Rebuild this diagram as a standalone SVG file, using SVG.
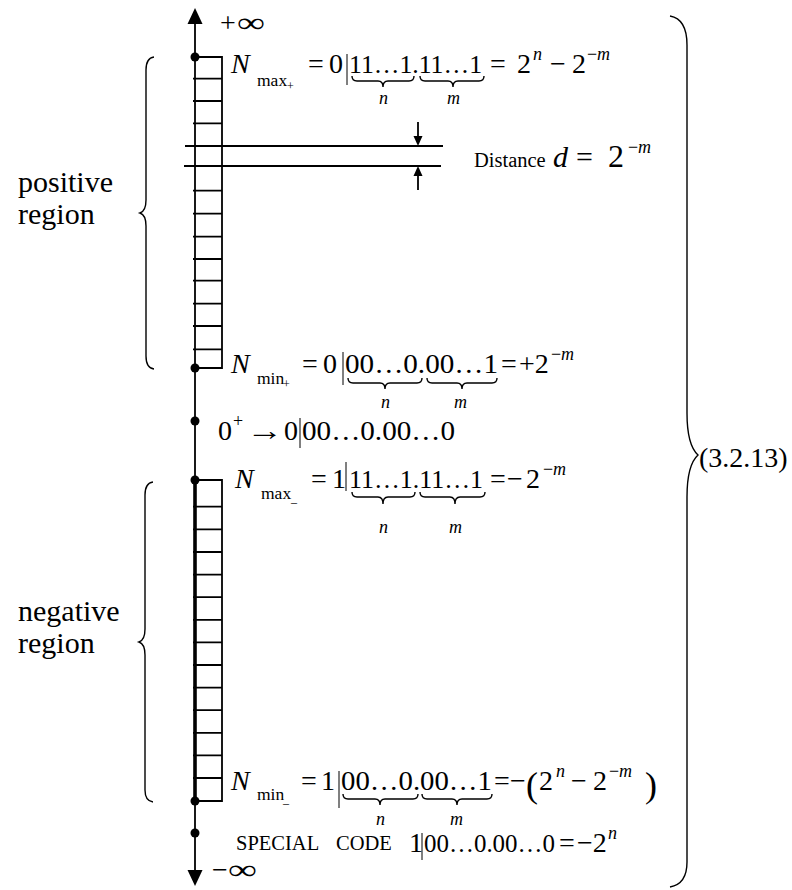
<svg xmlns="http://www.w3.org/2000/svg" width="792" height="890" viewBox="0 0 792 890" font-family="'Liberation Serif', 'DejaVu Serif', serif">
<style>
text{fill:#000}
.m{font-size:28px}
.g{font-size:25.5px}
.i{font-style:italic}
.sub{font-size:17.5px}
.ss{font-size:12px}
.sup{font-size:18px}
.lbl{font-size:18px;font-style:italic}
.big{font-size:28px}
.sm{font-size:20.5px}
.rg{font-size:30px}
.ln{stroke:#000;stroke-width:1.8;fill:none}
.br{stroke:#000;stroke-width:1.4;fill:none}
.bar{stroke:#000;stroke-width:1;fill:none}
.dot{fill:#000}
</style>
<g id="axis">
<line class="ln" x1="195" y1="18" x2="195" y2="876" stroke-width="2.4"/>
<line x1="195" y1="480" x2="195" y2="802" stroke="#000" stroke-width="3.6"/>
<polygon points="195,8 187.5,24 202.5,24" fill="#000"/>
<polygon points="195,886 187.5,870 202.5,870" fill="#000"/>
<text class="m" x="220" y="32">+</text>
<text class="m" x="237" y="32" textLength="28" lengthAdjust="spacingAndGlyphs">∞</text>
<text class="m" x="212" y="879">−</text>
<text class="m" x="228" y="879" textLength="29" lengthAdjust="spacingAndGlyphs">∞</text>
</g>
<g id="positive-ladder">
<path class="ln" d="M195,57 H222 V368 H195"/>
<path class="ln" d="M193,78.7 H222 M193,101 H222 M193,123.3 H222 M193,190.7 H222 M193,213.7 H222 M193,236.7 H222 M193,259 H222 M193,280.7 H222 M193,303.7 H222 M193,326 H222 M193,349.3 H222"/>
</g>
<g id="distance">
<line class="ln" x1="185" y1="146" x2="443" y2="146"/>
<line class="ln" x1="184" y1="166" x2="441" y2="166"/>
<line class="ln" x1="418" y1="122" x2="418" y2="138"/>
<polygon points="418,146 413.5,136 422.5,136" fill="#000"/>
<line class="ln" x1="418" y1="190" x2="418" y2="174"/>
<polygon points="418,166 413.5,176 422.5,176" fill="#000"/>
<text class="sm" x="474" y="167">Distance</text>
<text class="i" x="553" y="167" font-size="30">d</text>
<text x="576" y="167" font-size="30">=</text>
<text x="608" y="167" font-size="32">2</text>
<text class="sup" x="628" y="153">−</text>
<text class="sup i" x="638" y="153">m</text>
</g>
<g id="negative-ladder">
<path class="ln" d="M195,480 H222 V801 H195"/>
<path class="ln" d="M193,506.7 H222 M193,529.3 H222 M193,552 H222 M193,574.6 H222 M193,597.2 H222 M193,619.8 H222 M193,642.4 H222 M193,665 H222 M193,687.6 H222 M193,710.2 H222 M193,732.8 H222 M193,755.4 H222 M193,778 H222"/>
</g>
<g id="dots">
<circle class="dot" cx="195" cy="57" r="4.5"/>
<circle class="dot" cx="195" cy="368" r="4.5"/>
<circle class="dot" cx="195" cy="421" r="4.5"/>
<circle class="dot" cx="195" cy="480" r="4.5"/>
<circle class="dot" cx="195" cy="801" r="4.5"/>
<circle class="dot" cx="195" cy="833" r="4.5"/>
</g>
<g id="positive-brace">
<path class="br" d="M154,57 Q146,58 146,70 L146,200 Q146,211 140,213 Q146,215 146,226 L146,356 Q146,368 154,369"/>
<text class="rg" x="18" y="192">positive</text>
<text class="rg" x="18" y="224">region</text>
</g>
<g id="negative-brace">
<path class="br" d="M153,482 Q145,483 145,495 L145,629 Q145,640 139,642 Q145,644 145,655 L145,790 Q145,801 153,802"/>
<text class="rg" x="18" y="621">negative</text>
<text class="rg" x="18" y="653">region</text>
</g>
<g id="nmax-pos">
<text class="m i" x="231" y="73">N</text>
<text class="sub" x="257" y="86">max</text>
<text class="ss" x="287" y="90">+</text>
<text class="m" x="308" y="73">=</text>
<text class="m" x="329" y="73">0</text>
<line class="bar" x1="347" y1="54" x2="347" y2="85"/>
<text class="g" x="349" y="73" textLength="133" lengthAdjust="spacingAndGlyphs">11…1.11…1</text>
<text class="m" x="490" y="73">=</text>
<text class="m" x="517" y="73">2</text>
<text class="sup i" x="533" y="60">n</text>
<text class="m" x="550" y="73">−</text>
<text class="m" x="572" y="73">2</text>
<text class="sup" x="587" y="60">−</text>
<text class="sup i" x="597" y="60">m</text>
<path class="br" d="M352,76 Q352,81 357,81 L378,81 Q383,81 383,87 Q383,81 388,81 L409,81 Q414,81 414,76"/>
<path class="br" d="M420,76 Q420,81 425,81 L448,81 Q453,81 453,87 Q453,81 458,81 L479,81 Q484,81 484,76"/>
<text class="lbl" x="379" y="104">n</text>
<text class="lbl" x="447" y="104">m</text>
</g>
<g id="nmin-pos">
<text class="m i" x="231" y="373">N</text>
<text class="sub" x="257" y="384">min</text>
<text class="ss" x="283" y="388">+</text>
<text class="m" x="302" y="373">=</text>
<text class="m" x="323" y="373">0</text>
<line class="bar" x1="343" y1="352" x2="343" y2="385"/>
<text class="m" x="345" y="373" textLength="153" lengthAdjust="spacingAndGlyphs">00…0.00…1</text>
<text class="m" x="501" y="373">=</text>
<text class="m" x="519" y="373">+2</text>
<text class="sup" x="551" y="360">−</text>
<text class="sup i" x="561" y="360">m</text>
<path class="br" d="M348,378 Q348,383 353,383 L380,383 Q385,383 385,389 Q385,383 390,383 L417,383 Q422,383 422,378"/>
<path class="br" d="M427,378 Q427,383 432,383 L457,383 Q462,383 462,389 Q462,383 467,383 L492,383 Q497,383 497,378"/>
<text class="lbl" x="381" y="408">n</text>
<text class="lbl" x="454" y="408">m</text>
</g>
<g id="zero-pos">
<text class="m" x="218" y="440">0</text>
<text class="sup" x="233" y="427">+</text>
<text class="m" x="246" y="440" textLength="37" lengthAdjust="spacingAndGlyphs">→</text>
<text class="m" x="284" y="440">0</text>
<line class="bar" x1="300" y1="418" x2="300" y2="448"/>
<text class="m" x="302" y="440" textLength="153" lengthAdjust="spacingAndGlyphs">00…0.00…0</text>
</g>
<g id="nmax-neg">
<text class="m i" x="235" y="488">N</text>
<text class="sub" x="261" y="499">max</text>
<text class="ss" x="291" y="502">_</text>
<text class="m" x="311" y="488">=</text>
<text class="m" x="332" y="488">1</text>
<line class="bar" x1="346" y1="462" x2="346" y2="491"/>
<text class="g" x="349" y="488" textLength="134" lengthAdjust="spacingAndGlyphs">11…1.11…1</text>
<text class="m" x="490" y="488">=</text>
<text class="m" x="507" y="488">−</text>
<text class="m" x="526" y="488">2</text>
<text class="sup" x="543" y="475">−</text>
<text class="sup i" x="553" y="475">m</text>
<path class="br" d="M352,492 Q352,497 357,497 L378,497 Q383,497 383,504 Q383,497 388,497 L410,497 Q415,497 415,492"/>
<path class="br" d="M420,492 Q420,497 425,497 L450,497 Q455,497 455,504 Q455,497 460,497 L480,497 Q485,497 485,492"/>
<text class="lbl" x="379" y="533">n</text>
<text class="lbl" x="449" y="533">m</text>
</g>
<g id="nmin-neg">
<text class="m i" x="231" y="790">N</text>
<text class="sub" x="257" y="800">min</text>
<text class="ss" x="283" y="803">_</text>
<text class="m" x="301" y="790">=</text>
<text class="m" x="321" y="790">1</text>
<line class="bar" x1="339" y1="771" x2="339" y2="808"/>
<text class="m" x="341" y="790" textLength="151" lengthAdjust="spacingAndGlyphs">00…0.00…1</text>
<text class="m" x="494" y="790">=</text>
<text class="m" x="510" y="790">−</text>
<text x="526" y="797" font-size="36">(</text>
<text class="m" x="539" y="790">2</text>
<text class="sup i" x="556" y="777">n</text>
<text class="m" x="571" y="790">−</text>
<text class="m" x="593" y="790">2</text>
<text class="sup" x="609" y="777">−</text>
<text class="sup i" x="619" y="777">m</text>
<text x="645" y="797" font-size="36">)</text>
<path class="br" d="M343,794 Q343,799 348,799 L375,799 Q380,799 380,805 Q380,799 385,799 L413,799 Q418,799 418,794"/>
<path class="br" d="M422,794 Q422,799 427,799 L452,799 Q457,799 457,805 Q457,799 462,799 L487,799 Q492,799 492,794"/>
<text class="lbl" x="376" y="825">n</text>
<text class="lbl" x="450" y="825">m</text>
</g>
<g id="special-code">
<text class="sm" x="236" y="850">SPECIAL</text>
<text class="sm" x="336" y="850">CODE</text>
<text class="m" x="409" y="852">1</text>
<line class="bar" x1="422" y1="833" x2="422" y2="860"/>
<text x="424" y="852" font-size="25" textLength="131" lengthAdjust="spacingAndGlyphs">00…0.00…0</text>
<text class="m" x="559" y="852">=</text>
<text class="m" x="577" y="852">−2</text>
<text class="sup i" x="608" y="839">n</text>
</g>
<g id="right-brace">
<path class="br" stroke-width="2.2" d="M670,16 Q687,19 687,45 L687,413 Q687,445 698,455 Q687,465 687,497 L687,862 Q687,884 670,887"/>
<text class="big" x="699" y="467">(3.2.13)</text>
</g>
</svg>
